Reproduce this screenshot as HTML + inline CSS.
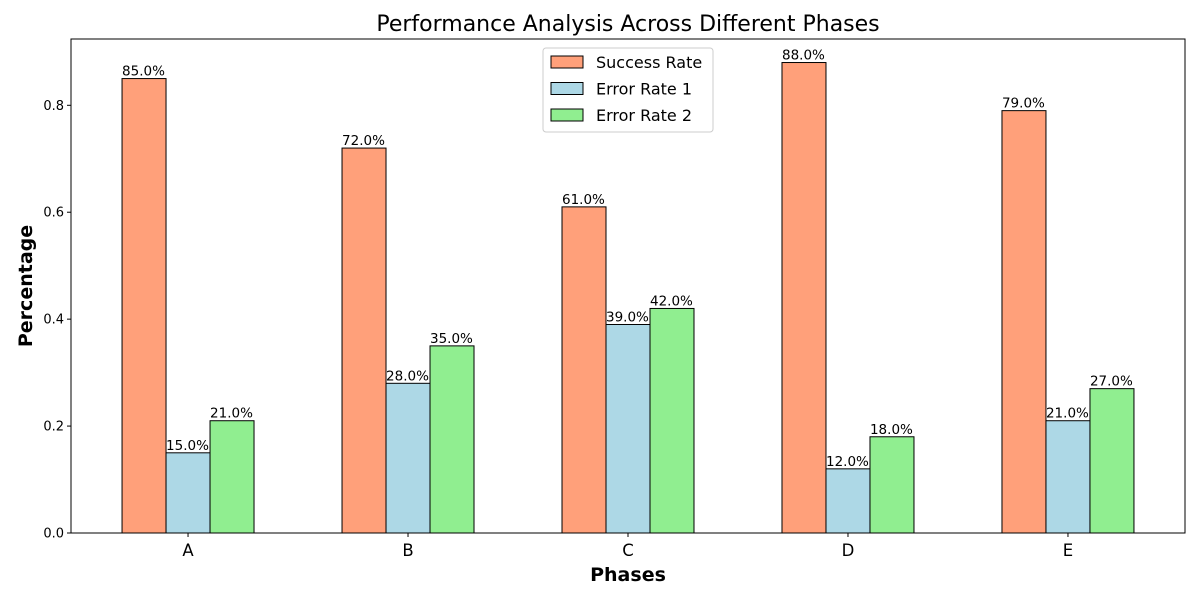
<!DOCTYPE html>
<html><head><meta charset="utf-8"><style>
body{margin:0;background:#fff;}
svg{font-family:"DejaVu Sans","Liberation Sans",sans-serif;}
</style></head><body>
<svg id="chart" width="1200" height="600">
<rect x="0" y="0" width="1200" height="600" fill="#fff"/>
<text x="628" y="31" text-anchor="middle" font-size="22">Performance Analysis Across Different Phases</text>
<g id="bars"></g>
<g id="axes"></g>
<g id="legend"></g>
</svg>
<script>
const categories=["A","B","C","D","E"];
const seriesNames=["Success Rate","Error Rate 1","Error Rate 2"];
const successRate=[0.85,0.72,0.61,0.88,0.79];
const errorRate1=[0.15,0.28,0.39,0.12,0.21];
const errorRate2=[0.21,0.35,0.42,0.18,0.27];
const yTicks=[0,0.2,0.4,0.6,0.8];
const colors=["#FFA07A","#ADD8E6","#90EE90"];
const series=[successRate,errorRate1,errorRate2];
const NS="http://www.w3.org/2000/svg";
const L=71,R=1185,T=39,B=533;
const yMax=0.924, xMin=-0.532, xMax=4.532;
const y=v=>B-(v/yMax)*(B-T);
const x=v=>L+(v-xMin)/(xMax-xMin)*(R-L);
function mk(tag,attrs,parent){const e=document.createElementNS(NS,tag);for(const k in attrs)e.setAttribute(k,attrs[k]);parent.appendChild(e);return e;}
const bars=document.getElementById('bars'),axes=document.getElementById('axes');
const bw=0.2;
series.forEach((s,si)=>{s.forEach((v,i)=>{
 const cx=i+(si-1)*bw;
 const r=mk('rect',{x:x(cx-bw/2),y:y(v),width:x(cx+bw/2)-x(cx-bw/2),height:B-y(v),fill:colors[si],stroke:'#000','stroke-width':1},bars);
 
 
 const t=mk('text',{x:x(cx-bw/2),y:y(v)-3,'text-anchor':'start','font-size':13.5},bars);
 t.textContent=(v*100).toFixed(1)+'%';
 
 
});});
const frame=mk('rect',{x:L,y:T,width:R-L,height:B-T,fill:'none',stroke:'#000','stroke-width':1},axes);


yTicks.forEach(v=>{
 mk('line',{x1:L-4,x2:L,y1:y(v),y2:y(v),stroke:'#000'},axes);
 const t=mk('text',{x:L-7,y:y(v)+4.5,'text-anchor':'end','font-size':13},axes);
 t.textContent=v.toFixed(1);
 
 
});
categories.forEach((c,i)=>{
 mk('line',{x1:x(i),x2:x(i),y1:B,y2:B+4,stroke:'#000'},axes);
 const t=mk('text',{x:x(i),y:B+23,'text-anchor':'middle','font-size':16.5},axes);
 t.textContent=c;
 
 
});
const xt=mk('text',{x:(L+R)/2,y:581,'text-anchor':'middle','font-size':19,'font-weight':'bold'},axes);
xt.textContent='Phases';


const yt=mk('text',{x:0,y:0,'text-anchor':'middle','font-size':19,'font-weight':'bold',transform:'translate(32,'+((T+B)/2)+') rotate(-90)'},axes);
yt.textContent='Percentage';


const lg=document.getElementById('legend');
mk('rect',{x:543,y:48,width:170,height:84,rx:3,fill:'#fff',stroke:'#ccc'},lg);
seriesNames.forEach((n,i)=>{
 const yy=56+i*26.5;
 const r=mk('rect',{x:551,y:yy,width:32,height:12,fill:colors[i],stroke:'#000'},lg);
 
 
 const t=mk('text',{x:596,y:yy+12,'font-size':16},lg);
 t.textContent=n;
 
 
});
</script>
</body></html>
